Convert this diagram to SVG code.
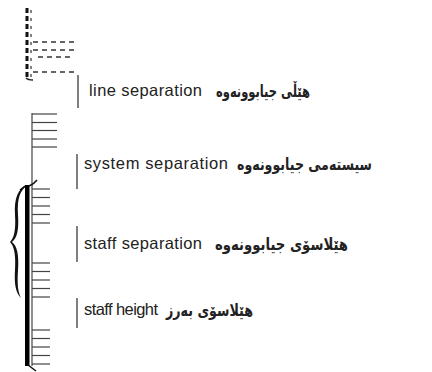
<svg xmlns="http://www.w3.org/2000/svg" width="432" height="372" viewBox="0 0 432 372">
<style>
.staff{stroke:#444;stroke-width:1.2;fill:none}
.dash{stroke:#333;stroke-width:1.3;stroke-dasharray:5,4;fill:none}
.mark{stroke:#555;stroke-width:1.5;fill:none}
.en{font-family:"Liberation Sans",Arial,sans-serif;font-size:16.5px;fill:#222}
.ku{font-family:"DejaVu Sans",sans-serif;font-size:16.5px;font-weight:bold;fill:#222}
</style>
<rect width="432" height="372" fill="#fff"/>
<g id="dashed-system">
<line x1="27" y1="8" x2="27" y2="78" stroke="#111" stroke-width="3" stroke-dasharray="5,3"/>
<line x1="31" y1="10" x2="31" y2="78" stroke="#333" stroke-width="1.2" stroke-dasharray="3,5"/>
<path d="M26,78 Q28,80 33,80" stroke="#222" stroke-width="1.5" fill="none"/>
<line class="dash" x1="33" y1="42" x2="74" y2="42"/>
<line class="dash" x1="33" y1="50" x2="74" y2="50"/>
<line class="dash" x1="38" y1="57" x2="74" y2="57"/>
<line class="dash" x1="33" y1="72" x2="74" y2="72"/>
</g>
<g id="system1">
<line class="staff" x1="32" y1="113" x2="32" y2="186"/>
<line class="staff" x1="32" y1="114" x2="57" y2="114"/>
<line class="staff" x1="32" y1="122.5" x2="57" y2="122.5"/>
<line class="staff" x1="32" y1="130.5" x2="57" y2="130.5"/>
<line class="staff" x1="32" y1="139" x2="57" y2="139"/>
<line class="staff" x1="32" y1="147" x2="57" y2="147"/>
</g>
<g id="system2">
<path d="M28,185 C18,188 14,198 15,215 C16,230 14,238 10,242 C14,246 16,254 15,270 C14,285 16,293 21,298 C18,292 17,285 18,270 C19,254 17,246 12,242 C17,238 19,230 18,215 C17,198 20,190 28,185 Z" fill="#111"/>
<rect x="25" y="185" width="4.5" height="181" fill="#000"/>
<path d="M20,190 L25,186 M29,186 Q34,184 37,180" stroke="#111" stroke-width="1.5" fill="none"/>
<path d="M28,365 Q32,368 36,371" stroke="#111" stroke-width="1.5" fill="none"/>
<line class="staff" x1="32" y1="185" x2="32" y2="366"/>
<line class="staff" x1="32" y1="189" x2="50" y2="189"/>
<line class="staff" x1="32" y1="197.5" x2="50" y2="197.5"/>
<line class="staff" x1="32" y1="206" x2="50" y2="206"/>
<line class="staff" x1="32" y1="214.5" x2="50" y2="214.5"/>
<line class="staff" x1="32" y1="223" x2="50" y2="223"/>
<line class="staff" x1="32" y1="263" x2="50" y2="263"/>
<line class="staff" x1="32" y1="271.5" x2="50" y2="271.5"/>
<line class="staff" x1="32" y1="280" x2="50" y2="280"/>
<line class="staff" x1="32" y1="288.5" x2="50" y2="288.5"/>
<line class="staff" x1="32" y1="297" x2="50" y2="297"/>
<line class="staff" x1="32" y1="330" x2="50" y2="330"/>
<line class="staff" x1="32" y1="338.5" x2="50" y2="338.5"/>
<line class="staff" x1="32" y1="347" x2="50" y2="347"/>
<line class="staff" x1="32" y1="355.5" x2="50" y2="355.5"/>
<line class="staff" x1="32" y1="364" x2="50" y2="364"/>
</g>
<g id="connectors">
<line class="mark" x1="78" y1="75" x2="78" y2="108"/>
<line class="mark" x1="77" y1="154" x2="77" y2="189"/>
<line class="mark" x1="77" y1="226" x2="77" y2="262"/>
<line class="mark" x1="77" y1="298" x2="77" y2="328"/>
</g>
<g id="label-line">
<text class="en" x="89" y="96" textLength="113">line separation</text>
<text class="ku" x="216" y="97" textLength="94" lengthAdjust="spacingAndGlyphs">هێڵی جیابوونەوە</text>
</g>
<g id="label-system">
<text class="en" x="84" y="169" textLength="144">system separation</text>
<text class="ku" x="237" y="170" textLength="135" lengthAdjust="spacingAndGlyphs">سیستەمی جیابوونەوە</text>
</g>
<g id="label-staffsep">
<text class="en" x="84" y="249" textLength="118">staff separation</text>
<text class="ku" x="215" y="250" textLength="133" lengthAdjust="spacingAndGlyphs">هێلاسۆی جیابوونەوە</text>
</g>
<g id="label-staffheight">
<text class="en" x="84" y="315" textLength="74">staff height</text>
<text class="ku" x="166" y="316" textLength="87" lengthAdjust="spacingAndGlyphs">هێلاسۆی بەرز</text>
</g>
</svg>
